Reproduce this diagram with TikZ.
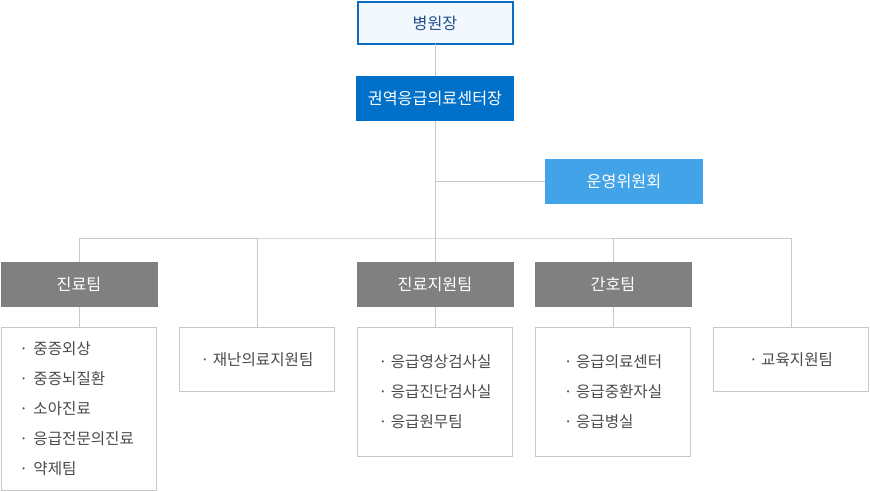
\documentclass[tikz,border=0pt]{standalone}
\usepackage{fontspec}
\setmainfont{Noto Sans CJK KR}
\usetikzlibrary{positioning}
\definecolor{headfill}{HTML}{F3F8FE}
\definecolor{headblue}{HTML}{0B6CC4}
\definecolor{headtext}{HTML}{1F4E8C}
\definecolor{chiefblue}{HTML}{0070C8}
\definecolor{boardblue}{HTML}{42A3E8}
\definecolor{teamgray}{HTML}{808080}
\definecolor{linegray}{HTML}{C8C8C8}
\definecolor{unittext}{HTML}{4A4A4A}

\begin{document}
\begin{tikzpicture}[
  x=1pt, y=-1pt,
  font=\fontsize{16.2pt}{18pt}\selectfont,
  box/.style={rectangle, minimum width=158pt, minimum height=45pt, inner sep=0pt, outer sep=0pt},
  head/.style={box, minimum width=155pt, minimum height=42pt, draw=headblue, line width=2pt, fill=headfill, text=headtext},
  chief/.style={box, fill=chiefblue, text=white},
  board/.style={box, fill=boardblue, text=white},
  team/.style={box, minimum width=157pt, fill=teamgray, text=white},
  unit/.style={rectangle, draw=linegray, line width=1pt, minimum width=155pt, inner sep=0pt, outer sep=0pt,
    align=left, text=unittext, font=\fontsize{15.6pt}{30pt}\selectfont},
  link/.style={draw=linegray, line width=1pt}
]
\useasboundingbox (0,0) rectangle (870,492);
% ----- top -----
\node[head] (hd) at (435,23) {병원장};
\node[chief, below=32pt of hd] (chief) {권역응급의료센터장};
\node[board, below right=38pt and 31pt of chief] (board) {운영위원회};
% ----- teams -----
\node[team] (clin) at (79,284.5) {진료팀};
\node[team] (supp) at (435,284.5) {진료지원팀};
\node[team] (nurse) at (613,284.5) {간호팀};
\node[unit, minimum height=163pt, below=20pt of clin, text width=119pt] (clinlist)
  {· 중증외상\\· 중증뇌질환\\· 소아진료\\· 응급전문의진료\\· 약제팀};
\node[unit, minimum height=64pt] (disaster) at (257,359.5) {· 재난의료지원팀};
\node[unit, minimum height=129pt, below=20pt of supp] (supplist)
  {· 응급영상검사실\\· 응급진단검사실\\· 응급원무팀};
\node[unit, minimum height=129pt, below=20pt of nurse] (nurselist)
  {· 응급의료센터\\· 응급중환자실\\· 응급병실};
\node[unit, minimum height=64pt] (edu) at (791,359.5) {· 교육지원팀};
% ----- links -----
\coordinate (bar) at (435,238);
\draw[link] (hd) -- (chief);
\draw[link] (chief) -- (supp);
\draw[link] (board.west) -- (board.west -| chief.south);
\draw[link] (clin.north) |- (bar) -| (edu.north);
\draw[link] (disaster.north) -- (disaster.north |- bar);
\draw[link] (nurse.north) -- (nurse.north |- bar);
\draw[link] (clin) -- (clinlist);
\draw[link] (supp) -- (supplist);
\draw[link] (nurse) -- (nurselist);
\end{tikzpicture}
\end{document}
